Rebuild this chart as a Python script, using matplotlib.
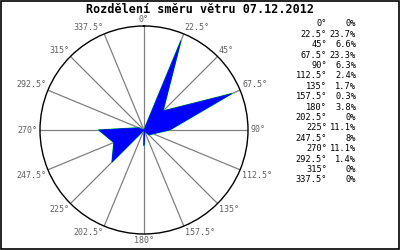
import numpy as np
import matplotlib
matplotlib.use("Agg")
import matplotlib.pyplot as plt
from matplotlib.patches import Rectangle

title = "Rozdělení směru větru 07.12.2012"
directions = [0, 22.5, 45, 67.5, 90, 112.5, 135, 157.5, 180, 202.5, 225, 247.5, 270, 292.5, 315, 337.5]
dir_labels = ["0°", "22.5°", "45°", "67.5°", "90°", "112.5°", "135°", "157.5°", "180°",
              "202.5°", "225°", "247.5°", "270°", "292.5°", "315°", "337.5°"]
values = [0, 23.7, 6.6, 23.3, 6.3, 2.4, 1.7, 0.3, 3.8, 0, 11.1, 8, 11.1, 1.4, 0, 0]
value_labels = ["0%", "23.7%", "6.6%", "23.3%", "6.3%", "2.4%", "1.7%", "0.3%", "3.8%",
                "0%", "11.1%", "8%", "11.1%", "1.4%", "0%", "0%"]

mono = "DejaVu Sans Mono"
fig = plt.figure(figsize=(4, 2.5), dpi=100)
fig.patch.set_facecolor("white")
fig.patches.append(Rectangle((0.0015, 0.0025), 0.996, 0.994, transform=fig.transFigure,
                             fill=False, edgecolor="black", linewidth=1.2))

ax = fig.add_axes([0.1, 0.064, 0.52, 0.832], projection="polar")
ax.set_theta_zero_location("N")
ax.set_theta_direction(-1)
rmax = 25.5
ax.set_ylim(0, rmax)
ax.set_xticks([])
ax.set_yticks([])
ax.grid(False)
ax.spines["polar"].set_color("black")
ax.spines["polar"].set_linewidth(1.0)

th = np.deg2rad(directions)
for t in th:
    ax.plot([t, t], [0, rmax], color="#808080", lw=0.9, zorder=1)

tc = np.append(th, th[0])
vc = np.append(values, values[0])
ax.plot(tc, vc, color="#00ff00", lw=1.0, zorder=2)
ax.fill(tc, vc, facecolor="#0000ff", edgecolor="#0000ff", lw=0.5, zorder=3)

for t, lab in zip(th, dir_labels):
    s, c = np.sin(t), np.cos(t)
    ha = "left" if s > 0.01 else ("right" if s < -0.01 else "center")
    va = "bottom" if c > 0.01 else ("top" if c < -0.01 else "center")
    ax.text(t, rmax * 1.02, lab, ha=ha, va=va, fontsize=6, family=mono, color="#606060")

fig.text(0.5, 0.962, title, ha="center", va="center", fontsize=8.5, weight="bold", family=mono)

for i, (dl, vl) in enumerate(zip(dir_labels, value_labels)):
    y = 1 - (24 + i * 10.4) / 250
    fig.text(327 / 400, y, dl, ha="right", va="center", fontsize=6.2, family=mono)
    fig.text(356 / 400, y, vl, ha="right", va="center", fontsize=6.2, family=mono)

fig.savefig("out.png", dpi=100)
